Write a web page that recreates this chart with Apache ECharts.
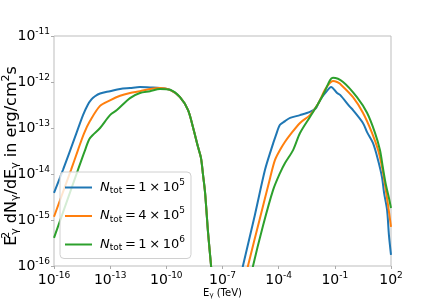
<!DOCTYPE html>
<html>
<head>
<meta charset="utf-8">
<script src="https://cdn.jsdelivr.net/npm/echarts@6/dist/echarts.min.js"></script>
<style>
html,body{margin:0;padding:0;background:#fff;}
#chart{width:436px;height:300px;}
</style>
</head>
<body>
<div id="chart"></div>
<script>
// All points are [log10(E_gamma / TeV), log10(E^2 dN/dE / (erg/cm^2 s))]
const cutoffTail = [[-9.80,-12.17],[-9.27,-12.33],[-8.84,-12.61],[-8.58,-12.98],[-8.31,-13.41],[-8.15,-13.65],[-8.04,-14.02],[-7.93,-14.41],[-7.77,-15.28],[-7.61,-16.0],[-7.51,-16.5]];

const blueLow = [[-16,-14.41],[-15.52,-13.91],[-14.88,-13.20],[-14.45,-12.72],[-14.20,-12.50],[-14.00,-12.38],[-13.81,-12.31],[-13.54,-12.25],[-13.01,-12.20],[-12.47,-12.15],[-11.94,-12.13],[-11.41,-12.11],[-10.87,-12.12],[-10.34,-12.13]];
const blueHigh = [[-6.07,-16.30],[-5.91,-16.0],[-5.27,-14.89],[-4.73,-13.91],[-4.41,-13.48],[-4.14,-13.15],[-3.93,-12.93],[-3.66,-12.85],[-3.39,-12.78],[-2.86,-12.72],[-2.33,-12.65],[-2.01,-12.57],[-1.90,-12.48],[-1.69,-12.33],[-1.47,-12.22],[-1.20,-12.11],[-0.88,-12.24],[-0.72,-12.28],[-0.19,-12.54],[-0.03,-12.61],[0.50,-12.89],[0.72,-13.09],[1.04,-13.33],[1.31,-13.70],[1.52,-14.07],[1.63,-14.41],[1.79,-14.78],[1.89,-15.33],[2.0,-15.76]];

const orangeLow = [[-16,-14.93],[-15.09,-13.91],[-14.72,-13.48],[-14.40,-13.12],[-14.08,-12.85],[-13.54,-12.52],[-13.01,-12.40],[-12.47,-12.30],[-11.94,-12.24],[-11.41,-12.20],[-10.87,-12.15],[-10.34,-12.13]];
const orangeHigh = [[-5.80,-16.30],[-5.64,-16.0],[-5.00,-14.96],[-4.46,-14.09],[-4.20,-13.70],[-3.93,-13.48],[-3.66,-13.30],[-3.39,-13.15],[-2.86,-12.89],[-2.33,-12.72],[-1.90,-12.48],[-1.53,-12.17],[-1.26,-12.02],[-1.10,-11.98],[-0.88,-12.0],[-0.72,-12.04],[-0.03,-12.33],[0.50,-12.67],[0.99,-13.11],[1.31,-13.48],[1.52,-13.85],[1.68,-14.24],[1.84,-14.67],[2.0,-15.15]];

const greenLow = [[-16,-15.39],[-14.72,-13.91],[-14.34,-13.48],[-14.08,-13.22],[-13.54,-13.0],[-13.01,-12.72],[-12.64,-12.61],[-11.94,-12.35],[-11.41,-12.24],[-10.87,-12.20],[-10.34,-12.15]];
const greenHigh = [[-5.53,-16.35],[-5.37,-16.0],[-4.84,-15.13],[-4.30,-14.35],[-3.93,-13.98],[-3.66,-13.76],[-3.23,-13.48],[-2.86,-13.11],[-2.33,-12.76],[-1.90,-12.48],[-1.53,-12.20],[-1.26,-11.96],[-1.10,-11.91],[-0.56,-12.0],[0.18,-12.33],[0.72,-12.67],[1.15,-13.11],[1.41,-13.48],[1.57,-13.87],[1.73,-14.24],[1.89,-14.52],[2.0,-14.74]];

const seriesNames = ['N1e5','N4e5','N1e6'];
const legendCoeff = ['1','4','1'];
const legendExp = ['5','5','6'];
const colors = ['#1f77b4','#ff7f0e','#2ca02c'];

const xTickExps = [-16,-13,-10,-7,-4,-1,2];
const yTickExps = [-16,-15,-14,-13,-12,-11];

function toLin(arr){ return arr.map(p => [Math.pow(10,p[0]), Math.pow(10,p[1])]); }

const curves = [
  blueLow.concat(cutoffTail, blueHigh),
  orangeLow.concat(cutoffTail, orangeHigh),
  greenLow.concat(cutoffTail, greenHigh)
];

const FONT = 'DejaVu Sans';
function expLabel(v){
  const e = Math.round(Math.log10(v));
  return '{b|10}{s|' + (e < 0 ? '-' : '') + Math.abs(e) + '}';
}
const tickRich = {
  b: {fontSize: 14, fontFamily: FONT, color: '#000'},
  s: {fontSize: 9, fontFamily: FONT, color: '#000', padding: [0,0,9,0]}
};

const chart = echarts.init(document.getElementById('chart'), null, {renderer: 'canvas'});
chart.setOption({
  animation: false,
  backgroundColor: '#fff',
  grid: {left: 54, right: 45, top: 36, bottom: 34, show: true, borderColor: '#bdbdbd', borderWidth: 1, containLabel: false, outerBoundsMode: 'none'},
  legend: {
    orient: 'vertical', left: 60, top: 172,
    data: seriesNames,
    icon: 'rect', itemWidth: 27, itemHeight: 2, itemGap: 11,
    padding: [6, 6, 6, 5],
    backgroundColor: 'rgba(255,255,255,0.8)', borderColor: '#d0d0d0', borderWidth: 1, borderRadius: 4,
    formatter: function(name){
      const i = seriesNames.indexOf(name);
      return '{n|N}{sub|tot}{t|\u2009=\u2009' + legendCoeff[i] + '\u2009\u00d7\u200910}{sup|' + legendExp[i] + '}';
    },
    textStyle: {
      rich: {
        n: {fontSize: 13, fontStyle: 'italic', fontFamily: FONT, color: '#000', padding: [0,0,0,3]},
        sub: {fontSize: 9, fontFamily: FONT, color: '#000', padding: [7,0,0,0]},
        t: {fontSize: 13, fontFamily: FONT, color: '#000'},
        sup: {fontSize: 9, fontFamily: FONT, color: '#000', padding: [0,0,10,0]}
      }
    }
  },
  xAxis: {
    type: 'log', logBase: 10, min: 1e-16, max: 1e2, interval: 3,
    name: '{b|E}{sub|\u03b3}{b| (TeV)}', nameLocation: 'middle', nameGap: 22,
    nameMoveOverlap: false,
    nameTextStyle: {rich: {
      b: {fontSize: 10, fontFamily: FONT, color: '#000'},
      sub: {fontSize: 7, fontFamily: FONT, color: '#000', padding: [4,0,0,0]}
    }},
    axisLine: {show: false},
    axisTick: {show: true, length: 3, lineStyle: {color: '#aaa'}},
    minorTick: {show: false},
    splitLine: {show: false},
    axisLabel: {margin: 5, formatter: expLabel, rich: tickRich, showMinLabel: true, showMaxLabel: true}
  },
  yAxis: {
    type: 'log', logBase: 10, min: 1e-16, max: 1e-11, interval: 1,
    name: '{b|E}{s2|2}{sub|\u03b3}{b| dN}{sub|\u03b3}{b|/dE}{sub|\u03b3}{b| in erg/cm}{sup|2}{b|s}',
    nameLocation: 'middle', nameRotate: 90, nameGap: 32,
    nameMoveOverlap: false,
    nameTextStyle: {padding: [0, 10, 0, 0], rich: {
      b: {fontSize: 16, fontFamily: FONT, color: '#000'},
      sup: {fontSize: 11, fontFamily: FONT, color: '#000', padding: [0,0,10,0]},
      s2: {fontSize: 11, fontFamily: FONT, color: '#000', padding: [0,0,10,0], width: 1},
      sub: {fontSize: 11, fontFamily: FONT, color: '#000', padding: [7,0,0,0]}
    }},
    axisLine: {show: false},
    axisTick: {show: true, length: 3, lineStyle: {color: '#aaa'}},
    splitLine: {show: false},
    axisLabel: {margin: 4, formatter: expLabel, rich: tickRich, showMinLabel: true, showMaxLabel: true}
  },
  series: curves.map((c, i) => ({
    name: seriesNames[i],
    type: 'line',
    data: toLin(c),
    showSymbol: false,
    smooth: 0.3,
    clip: true,
    lineStyle: {width: 2, color: colors[i]},
    itemStyle: {color: colors[i]}
  }))
});
</script>
</body>
</html>
